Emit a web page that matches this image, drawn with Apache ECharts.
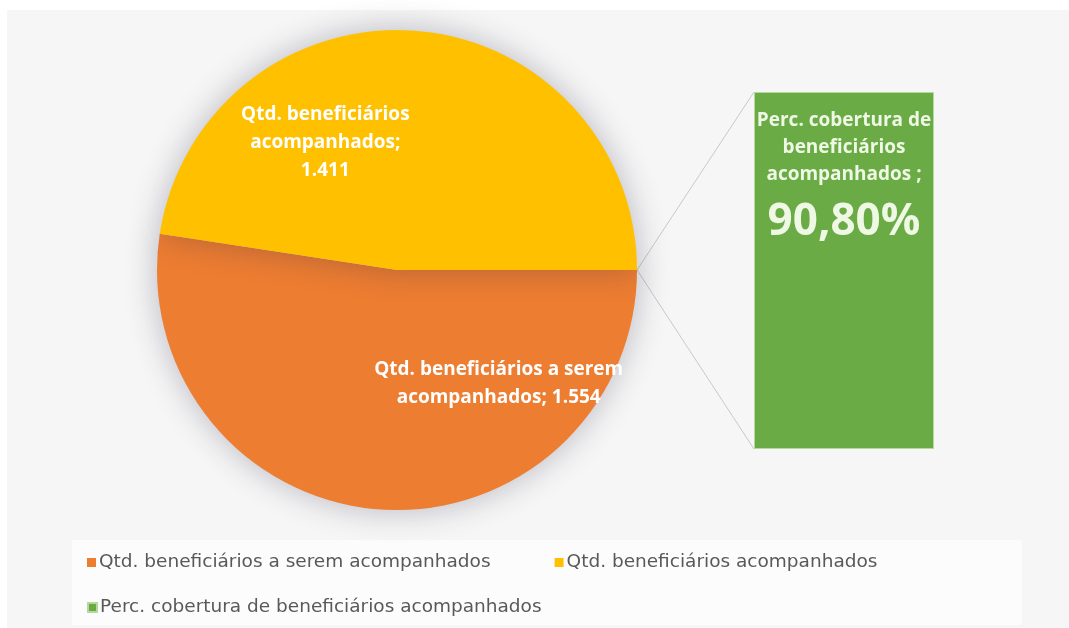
<!DOCTYPE html>
<html>
<head>
<meta charset="utf-8">
<script src="https://cdn.jsdelivr.net/npm/echarts@6/dist/echarts.min.js"></script>
<style>
	html, body { margin: 0; padding: 0; background: #fff; }
	#chart { width: 1069px; height: 628px; }
</style>
</head>
<body>
<div id="chart"></div>
<script>
	// dados
	const pieNames = ['Qtd. beneficiários a serem acompanhados', 'Qtd. beneficiários acompanhados'];
	const pieValues = [1554, 1411];
	const pieLabels = ['Qtd. beneficiários a serem\nacompanhados; ', 'Qtd. beneficiários\nacompanhados;\n'];
	const barName = 'Perc. cobertura de beneficiários acompanhados';
	const barValues = [90.8];
	const colors = ['#ed7d31', '#ffc000', '#6aab46'];

	const chart = echarts.init(document.getElementById('chart'));

	// layout
	const pieCenter = [397, 270];
	const pieRadius = 240;
	const barBox = { left: 754, top: 92, width: 180, height: 357 };

	function fmtBR(v) {
		return String(v).replace(/\B(?=(\d{3})+(?!\d))/g, '.');
	}

	const legendText = { color: '#595959', fontSize: 18.5, fontFamily: 'DejaVu Sans', padding: [0, 0, 0, -2] };
	const edge = [pieCenter[0] + pieRadius, pieCenter[1]];
	const lineStyle = { stroke: '#c9c9c9', lineWidth: 1 };

	let option = {
		animation: false,
		graphic: [{
			type: 'rect', z: -10,
			shape: { x: 7, y: 10, width: 1062, height: 618 },
			style: { fill: '#f6f6f6' }
		}, {
			type: 'rect', z: -9,
			shape: { x: 72, y: 540, width: 950, height: 85 },
			style: { fill: '#fcfcfc' }
		}, {
			// linhas de ligação entre a pizza e a barra
			type: 'line', z: -5,
			shape: { x1: edge[0], y1: edge[1], x2: barBox.left, y2: barBox.top },
			style: lineStyle
		}, {
			type: 'line', z: -5,
			shape: { x1: edge[0], y1: edge[1], x2: barBox.left, y2: barBox.top + barBox.height },
			style: lineStyle
		}],
		legend: [{
			data: pieNames,
			left: 82, top: 548,
			itemWidth: 9, itemHeight: 9, itemGap: 64,
			icon: 'rect',
			textStyle: legendText
		}, {
			data: [barName],
			left: 82, top: 593,
			itemWidth: 9, itemHeight: 9,
			icon: 'rect',
			textStyle: legendText
		}],
		grid: { left: barBox.left, top: barBox.top, width: barBox.width, height: barBox.height },
		xAxis: { type: 'category', data: [barName], show: false },
		yAxis: { type: 'value', min: 0, max: 'dataMax', show: false },
		series: [{
			name: 'Beneficiários',
			type: 'pie',
			center: pieCenter,
			radius: pieRadius,
			startAngle: 0,
			clockwise: true,
			color: colors.slice(0, 2),
			itemStyle: { shadowBlur: 32, shadowColor: 'rgba(40,40,70,0.3)' },
			label: {
				position: 'inside',
				color: '#fff',
				fontFamily: 'Open Sans',
				fontWeight: 'bold',
				fontSize: 19,
				lineHeight: 28,
				formatter: p => pieLabels[p.dataIndex] + fmtBR(p.value)
			},
			labelLayout: p => p.dataIndex === 0 ? { dx: 111, dy: -9 } : { dx: -81, dy: -5 },
			data: pieNames.map((n, i) => ({ name: n, value: pieValues[i] }))
		}, {
			name: barName,
			type: 'bar',
			barWidth: '100%',
			color: colors[2],
			itemStyle: { borderColor: '#b5d99c', borderWidth: 1 },
			label: {
				show: true,
				position: 'insideTop',
				distance: 15,
				color: '#eef8e4',
				fontFamily: 'Open Sans',
				fontWeight: 'bold',
				fontSize: 19,
				lineHeight: 27,
				formatter: p => 'Perc. cobertura de\nbeneficiários\nacompanhados ;\n{big|' + p.value.toFixed(2).replace('.', ',') + '%}',
				rich: { big: { fontSize: 44, fontWeight: 'bold', fontFamily: 'Open Sans', color: '#eef8e4', lineHeight: 68 } }
			},
			data: barValues
		}]
	};
	chart.setOption(option);
</script>
</body>
</html>
